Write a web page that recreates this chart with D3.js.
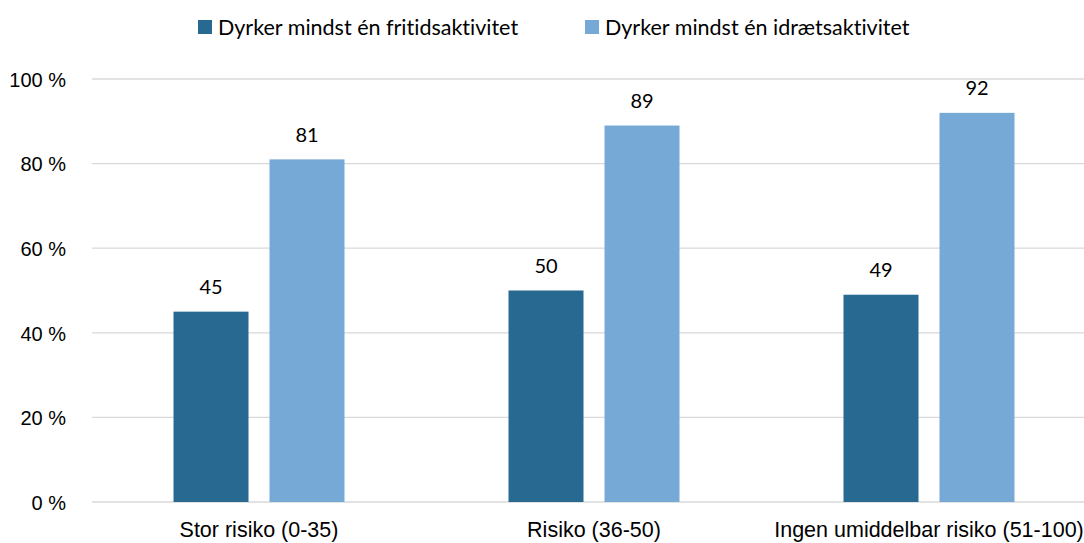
<!DOCTYPE html>
<html>
<head>
<meta charset="utf-8">
<script src="https://cdn.jsdelivr.net/npm/d3@7"></script>
<style>
  html, body { margin: 0; padding: 0; background: #fff; }
  svg { display: block; font-family: Lato, "Open Sans", sans-serif; font-variant-ligatures: none; }
</style>
</head>
<body>
<svg id="chart" width="1084" height="543"></svg>
<script>
// Risk groups along the x axis
const categories = ["Stor risiko (0-35)", "Risiko (36-50)", "Ingen umiddelbar risiko (51-100)"];
// Series names (legend)
const seriesNames = ["Dyrker mindst én fritidsaktivitet", "Dyrker mindst én idrætsaktivitet"];
// Share (%) per series, one value per category
const fritidValues = [45, 50, 49];
const idraetValues = [81, 89, 92];
// Y axis ticks
const yTicks = [0, 20, 40, 60, 80, 100];

const colors = ["#276991", "#77a9d7"];
const seriesValues = [fritidValues, idraetValues];
const textSize = 21.5;
const numSize = 20;

const svg = d3.select("#chart");

const y = d3.scaleLinear().domain([0, 100]).range([502, 79]);
const x0 = d3.scaleBand().domain(categories).range([91.5, 1096.5]);
const x1 = d3.scaleBand().domain(d3.range(seriesNames.length))
  .range([-85.5, 85.5]).paddingInner(0.21875);

// Gridlines
svg.append("g").selectAll("line").data(yTicks).join("line")
  .attr("x1", 92).attr("x2", 1084)
  .attr("y1", d => y(d)).attr("y2", d => y(d))
  .attr("stroke", "#d9d9d9").attr("stroke-width", 1.3);

// Y tick labels
const yAxis = d3.axisLeft(y).tickValues(yTicks).tickSize(0).tickPadding(0)
  .tickFormat(d => d + " %");
const gy = svg.append("g").attr("transform", "translate(66,0)").call(yAxis);
gy.select(".domain").remove();
gy.selectAll("text").attr("font-size", numSize).attr("fill", "#000").attr("dy", "0.36em");

// Bars and value labels
const groups = svg.append("g").selectAll("g").data(categories).join("g")
  .attr("transform", c => `translate(${x0(c) + x0.bandwidth() / 2},0)`);

groups.each(function(c, ci) {
  const g = d3.select(this);
  seriesValues.forEach((vals, si) => {
    const v = vals[ci];
    g.append("rect")
      .attr("x", x1(si)).attr("width", x1.bandwidth())
      .attr("y", y(v)).attr("height", y(0) - y(v))
      .attr("fill", colors[si]);
    g.append("text")
      .attr("x", x1(si) + x1.bandwidth() / 2)
      .attr("y", y(v) - 25).attr("dy", "0.36em")
      .attr("text-anchor", "middle")
      .attr("font-size", numSize).attr("fill", "#000")
      .text(v);
  });
});

// Category axis labels
const xAxis = d3.axisBottom(x0).tickSize(0).tickPadding(0);
const gx = svg.append("g").attr("transform", "translate(0,537)").call(xAxis);
gx.select(".domain").remove();
gx.selectAll("text").attr("font-size", textSize).attr("fill", "#000").attr("dy", 0);

// Legend
const legendPos = [198, 585];
const legend = svg.append("g").selectAll("g").data(seriesNames).join("g")
  .attr("transform", (d, i) => `translate(${legendPos[i]},20)`);
legend.append("rect").attr("width", 14).attr("height", 14).attr("fill", (d, i) => colors[i]);
legend.append("text").attr("x", 20).attr("y", 7).attr("dy", "0.36em")
  .attr("font-size", textSize).attr("fill", "#000").text(d => d);
</script>
</body>
</html>
